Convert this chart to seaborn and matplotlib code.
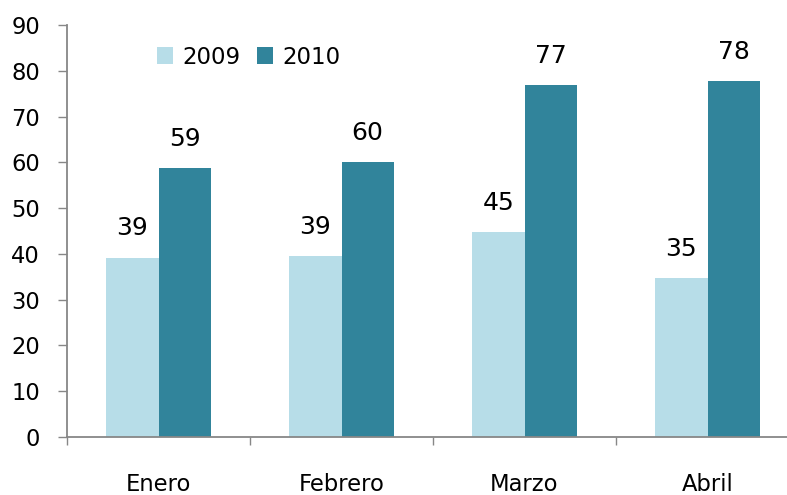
import matplotlib
matplotlib.use("Agg")
import matplotlib.pyplot as plt
import seaborn as sns
import pandas as pd
from matplotlib.patches import Patch
from matplotlib.ticker import FixedLocator

months = ["Enero", "Febrero", "Marzo", "Abril"]
series_names = ["2009", "2010"]
values_2009 = [39.2, 39.6, 44.8, 34.8]
values_2010 = [58.8, 60.1, 76.9, 77.8]
labels_2009 = [39, 39, 45, 35]
labels_2010 = [59, 60, 77, 78]
y_ticks = [0, 10, 20, 30, 40, 50, 60, 70, 80, 90]

colors = {"2009": "#B7DDE8", "2010": "#31849B"}
axis_gray = "#878787"

df = pd.DataFrame({
    "Mes": months * 2,
    "Año": ["2009"] * len(months) + ["2010"] * len(months),
    "Valor": values_2009 + values_2010,
})

sns.set_theme(style="white")
plt.rcParams["font.family"] = ["DejaVu Sans"]
plt.rcParams["text.color"] = "black"
plt.rcParams["xtick.labelcolor"] = "black"
plt.rcParams["ytick.labelcolor"] = "black"

fig = plt.figure(figsize=(7.87, 4.95), dpi=100)
ax = fig.add_axes([67 / 787, (495 - 437) / 495, 732 / 787, (437 - 25) / 495])

sns.barplot(data=df, x="Mes", y="Valor", hue="Año", order=months,
            hue_order=series_names, palette=colors, width=0.57,
            saturation=1, errorbar=None, ax=ax, legend=False, linewidth=0)

ax.set_xlim(-0.5, len(months) - 0.5)
ax.set_ylim(0, 90)
ax.set_yticks(y_ticks)
ax.set_xlabel("")
ax.set_ylabel("")

for s in ["top", "right"]:
    ax.spines[s].set_visible(False)
for s in ["left", "bottom"]:
    ax.spines[s].set_color(axis_gray)
    ax.spines[s].set_linewidth(1.3)

ax.tick_params(axis="y", which="major", direction="out", length=6.5, width=1,
               color=axis_gray, pad=13, labelsize=16.3, left=True, labelcolor="black")
ax.tick_params(axis="x", which="major", length=0, pad=26, labelsize=16.3, labelcolor="black")
ax.xaxis.set_minor_locator(FixedLocator([i - 0.5 for i in range(len(months) + 1)]))
ax.tick_params(axis="x", which="minor", direction="out", length=6, width=1,
               color=axis_gray, bottom=True)

# data labels
for container, labs in zip(ax.containers, [labels_2009, labels_2010]):
    for bar, lab in zip(container, labs):
        ax.annotate(f"{lab}", (bar.get_x() + bar.get_width() / 2, bar.get_height()),
                    xytext=(0, 21), textcoords="offset points",
                    ha="center", va="center", fontsize=18, color="black")

handles = [Patch(facecolor=colors[n], edgecolor="none", label=n) for n in series_names]
fig.legend(handles=handles, loc="center left",
           bbox_to_anchor=(157 / 787, 1 - 57 / 495), ncol=2, frameon=False,
           fontsize=16.5, handlelength=0.71, handleheight=0.71,
           handletextpad=0.4, columnspacing=0.7, borderpad=0, borderaxespad=0)

fig.savefig("out.png", dpi=100)
